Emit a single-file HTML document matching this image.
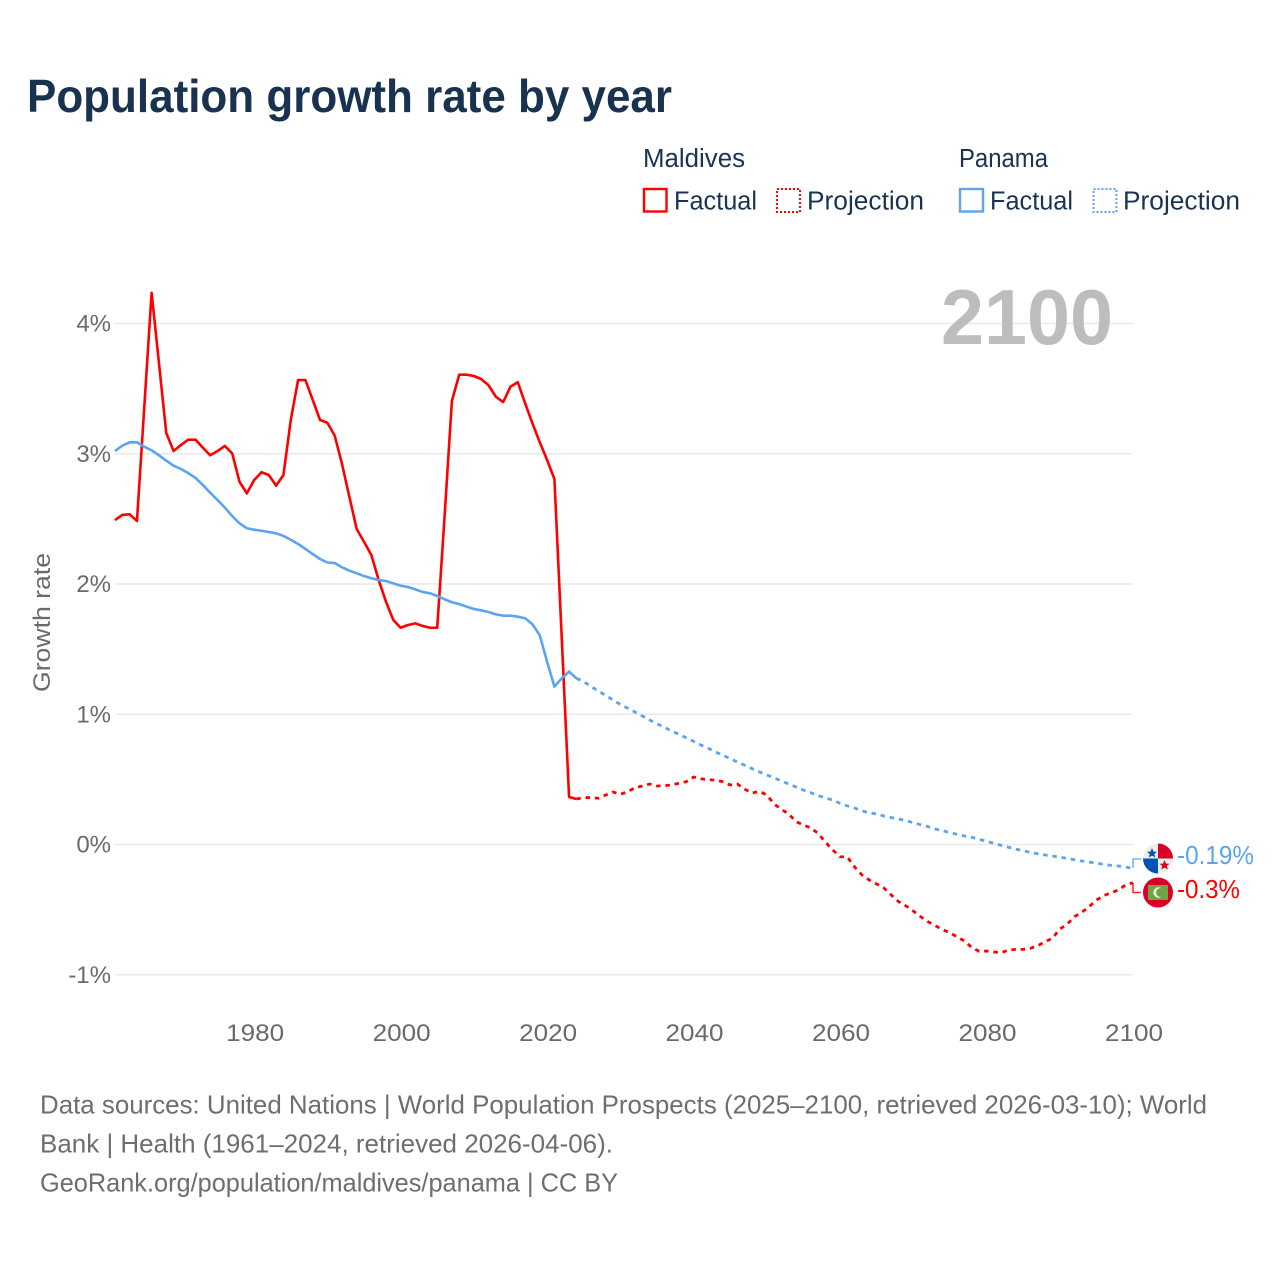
<!DOCTYPE html>
<html lang="en">
<head>
<meta charset="utf-8">
<title>Population growth rate by year</title>
<style>
html,body{margin:0;padding:0;background:#fff;width:1280px;height:1280px;overflow:hidden}
svg{display:block}
text{font-family:"Liberation Sans",sans-serif}
.lg{font-size:25.5px;fill:#1a3353}
.tick{font-size:24px;fill:#6a6a6a}
.foot{font-size:26px;fill:#6e6e6e}
</style>
</head>
<body>
<svg id="chart" xmlns="http://www.w3.org/2000/svg" width="1280" height="1280" viewBox="0 0 1280 1280">
  <rect x="0" y="0" width="1280" height="1280" fill="#fff"/>
  <text x="27" y="112" font-size="46" font-weight="700" fill="#18324f" textLength="645" lengthAdjust="spacingAndGlyphs">Population growth rate by year</text>

  <g>
    <text class="lg" x="643" y="167" textLength="102" lengthAdjust="spacingAndGlyphs">Maldives</text>
    <rect x="644" y="189" width="22.5" height="22.5" fill="none" stroke="#ff0000" stroke-width="2.4"/>
    <text class="lg" x="674" y="209.5" textLength="83" lengthAdjust="spacingAndGlyphs">Factual</text>
    <rect x="777" y="189" width="23" height="23" fill="none" stroke="#ff0000" stroke-width="2" stroke-dasharray="2 2"/>
    <text class="lg" x="807" y="209.5" textLength="117" lengthAdjust="spacingAndGlyphs">Projection</text>
    <text class="lg" x="959" y="167" textLength="89" lengthAdjust="spacingAndGlyphs">Panama</text>
    <rect x="960" y="189" width="23" height="22.5" fill="none" stroke="#5ba4ee" stroke-width="2.4"/>
    <text class="lg" x="990" y="209.5" textLength="83" lengthAdjust="spacingAndGlyphs">Factual</text>
    <rect x="1093.5" y="189" width="23" height="23" fill="none" stroke="#5ba4ee" stroke-width="2" stroke-dasharray="2 2"/>
    <text class="lg" x="1123" y="209.5" textLength="117" lengthAdjust="spacingAndGlyphs">Projection</text>
  </g>

  <g id="grid"></g>
  <g id="yticks"></g>
  <g id="xticks"></g>

  <text x="941" y="344" font-size="78" font-weight="700" fill="#bdbdbd" textLength="172" lengthAdjust="spacingAndGlyphs">2100</text>
  <text transform="translate(50,692) rotate(-90)" font-size="24" fill="#6a6a6a" textLength="139" lengthAdjust="spacingAndGlyphs">Growth rate</text>

  <g id="series"></g>

  <g>
    <path d="M1133 868V859H1141" fill="none" stroke="#5ba4ee" stroke-width="1.5" opacity=".85"/>
    <g>
      <circle cx="1158" cy="858.5" r="15" fill="#eeeeee"/>
      <path d="M1158 858.5V843.5A15 15 0 0 1 1173 858.5Z" fill="#d80027"/>
      <path d="M1158 858.5V873.5A15 15 0 0 1 1143 858.5Z" fill="#0052b4"/>
      <polygon points="1152,848 1153.5,851.6 1157,851.8 1154.3,854 1155.2,857.5 1152,855.6 1148.8,857.5 1149.7,854 1147,851.8 1150.5,851.6" fill="#0052b4"/>
      <polygon points="1164.5,860 1166,863.6 1169.5,863.8 1166.8,866 1167.7,869.5 1164.5,867.6 1161.3,869.5 1162.2,866 1159.5,863.8 1163,863.6" fill="#d80027"/>
    </g>
    <text x="1177" y="864" font-size="25.5" fill="#5ba4ee" textLength="77" lengthAdjust="spacingAndGlyphs">-0.19%</text>
  </g>
  <g>
    <path d="M1133 883V892.5H1141" fill="none" stroke="#ff0000" stroke-width="1.5" opacity=".85"/>
    <g>
      <circle cx="1158" cy="892.5" r="15" fill="#d80027"/>
      <rect x="1148" y="885" width="20" height="15" fill="#6da544"/>
      <circle cx="1158.5" cy="892.5" r="5.2" fill="#eeeeee"/>
      <circle cx="1160.5" cy="892.5" r="4.4" fill="#6da544"/>
    </g>
    <text x="1177" y="898" font-size="25.5" fill="#ff0000" textLength="63" lengthAdjust="spacingAndGlyphs">-0.3%</text>
  </g>

  <g>
    <text class="foot" x="40" y="1113.5" textLength="1167" lengthAdjust="spacingAndGlyphs">Data sources: United Nations | World Population Prospects (2025–2100, retrieved 2026-03-10); World</text>
    <text class="foot" x="40" y="1152.5" textLength="573" lengthAdjust="spacingAndGlyphs">Bank | Health (1961–2024, retrieved 2026-04-06).</text>
    <text class="foot" x="40" y="1191.5" textLength="578" lengthAdjust="spacingAndGlyphs">GeoRank.org/population/maldives/panama | CC BY</text>
  </g>
</svg>
<script>
const yTickValues = [4, 3, 2, 1, 0, -1];
const yTickLabels = ["4%", "3%", "2%", "1%", "0%", "-1%"];
const xTickYears = [1980, 2000, 2020, 2040, 2060, 2080, 2100];
const xTickLabels = ["1980", "2000", "2020", "2040", "2060", "2080", "2100"];
const factualStartYear = 1961;
const projectionStartYear = 2024;

const maldivesFactual = [2.491,2.530,2.535,2.484,3.359,4.236,3.697,3.159,3.021,3.067,3.108,3.108,3.046,2.988,3.021,3.060,3.003,2.785,2.696,2.798,2.858,2.837,2.755,2.837,3.259,3.566,3.566,3.413,3.259,3.238,3.139,2.921,2.670,2.422,2.325,2.223,2.031,1.864,1.724,1.664,1.685,1.698,1.678,1.664,1.664,2.517,3.405,3.607,3.607,3.597,3.574,3.526,3.438,3.397,3.515,3.549,3.387,3.234,3.088,2.952,2.806,1.585,0.365,0.349];

const maldivesProjection = [0.349,0.361,0.359,0.355,0.380,0.403,0.385,0.405,0.436,0.449,0.464,0.449,0.451,0.457,0.470,0.482,0.518,0.505,0.497,0.495,0.482,0.457,0.464,0.424,0.395,0.408,0.380,0.311,0.270,0.234,0.175,0.150,0.127,0.086,0.019,-0.042,-0.094,-0.096,-0.173,-0.234,-0.273,-0.303,-0.334,-0.388,-0.439,-0.472,-0.511,-0.554,-0.593,-0.623,-0.654,-0.677,-0.710,-0.741,-0.792,-0.820,-0.818,-0.825,-0.831,-0.810,-0.805,-0.805,-0.797,-0.777,-0.746,-0.720,-0.649,-0.613,-0.554,-0.521,-0.478,-0.426,-0.393,-0.370,-0.349,-0.311,-0.293];

const panamaFactual = [3.021,3.062,3.088,3.088,3.054,3.026,2.988,2.947,2.908,2.883,2.852,2.814,2.760,2.701,2.645,2.586,2.522,2.466,2.428,2.417,2.409,2.399,2.389,2.369,2.340,2.307,2.269,2.230,2.192,2.165,2.161,2.128,2.102,2.082,2.061,2.044,2.031,2.023,2.005,1.987,1.977,1.959,1.939,1.929,1.908,1.883,1.860,1.846,1.826,1.808,1.798,1.785,1.767,1.757,1.757,1.749,1.737,1.691,1.606,1.403,1.212,1.276,1.328,1.276];

const panamaProjection = [1.276,1.250,1.212,1.179,1.145,1.109,1.076,1.046,1.017,0.987,0.956,0.927,0.900,0.871,0.846,0.820,0.792,0.764,0.739,0.710,0.685,0.659,0.633,0.608,0.582,0.557,0.534,0.511,0.488,0.464,0.441,0.418,0.398,0.376,0.357,0.342,0.316,0.296,0.280,0.257,0.244,0.234,0.219,0.206,0.196,0.183,0.167,0.152,0.137,0.119,0.106,0.091,0.078,0.065,0.055,0.040,0.025,0.009,-0.006,-0.021,-0.035,-0.048,-0.060,-0.071,-0.081,-0.088,-0.098,-0.106,-0.117,-0.127,-0.134,-0.144,-0.152,-0.160,-0.165,-0.173,-0.183];

const SVGNS = "http://www.w3.org/2000/svg";
function xScale(year) { return 115 + (year - 1961) * (1133 - 115) / (2100 - 1961); }
function yScale(value) { return 844.5 - value * 130.25; }
function linePath(values, startYear) {
  return values.map(function (v, i) {
    return (i ? "L" : "M") + xScale(startYear + i).toFixed(2) + " " + yScale(v).toFixed(2);
  }).join("");
}

const gridGroup = document.getElementById("grid");
const yGroup = document.getElementById("yticks");
yTickValues.forEach(function (v, i) {
  const gl = document.createElementNS(SVGNS, "line");
  
  
  gl.setAttribute("x1", 115);
  gl.setAttribute("x2", 1133);
  gl.setAttribute("y1", yScale(v));
  gl.setAttribute("y2", yScale(v));
  gl.setAttribute("stroke", "#e9e9e9");
  gl.setAttribute("stroke-width", "1.5");
  gridGroup.appendChild(gl);

  const t = document.createElementNS(SVGNS, "text");
  
  
  t.setAttribute("class", "tick");
  t.setAttribute("x", 111);
  t.setAttribute("y", yScale(v) + 8);
  t.setAttribute("text-anchor", "end");
  t.textContent = yTickLabels[i];
  yGroup.appendChild(t);
});

const xGroup = document.getElementById("xticks");
xTickYears.forEach(function (yr, i) {
  const t = document.createElementNS(SVGNS, "text");
  
  
  t.setAttribute("class", "tick");
  t.setAttribute("x", xScale(yr) + 1);
  t.setAttribute("y", 1041);
  t.setAttribute("text-anchor", "middle");
  t.setAttribute("textLength", "58");
  t.setAttribute("lengthAdjust", "spacingAndGlyphs");
  t.textContent = xTickLabels[i];
  xGroup.appendChild(t);
});

const seriesGroup = document.getElementById("series");

const maldivesFactualLine = document.createElementNS(SVGNS, "path");


maldivesFactualLine.setAttribute("d", linePath(maldivesFactual, factualStartYear));
maldivesFactualLine.setAttribute("fill", "none");
maldivesFactualLine.setAttribute("stroke", "#ff0000");
maldivesFactualLine.setAttribute("stroke-width", "2.6");
maldivesFactualLine.setAttribute("stroke-linejoin", "round");
seriesGroup.appendChild(maldivesFactualLine);

const maldivesProjectionLine = document.createElementNS(SVGNS, "path");


maldivesProjectionLine.setAttribute("d", linePath(maldivesProjection, projectionStartYear));
maldivesProjectionLine.setAttribute("fill", "none");
maldivesProjectionLine.setAttribute("stroke", "#ff0000");
maldivesProjectionLine.setAttribute("stroke-width", "2.8");
maldivesProjectionLine.setAttribute("stroke-dasharray", "4.5 4.8");
seriesGroup.appendChild(maldivesProjectionLine);

const panamaFactualLine = document.createElementNS(SVGNS, "path");


panamaFactualLine.setAttribute("d", linePath(panamaFactual, factualStartYear));
panamaFactualLine.setAttribute("fill", "none");
panamaFactualLine.setAttribute("stroke", "#5ba4ee");
panamaFactualLine.setAttribute("stroke-width", "2.6");
panamaFactualLine.setAttribute("stroke-linejoin", "round");
seriesGroup.appendChild(panamaFactualLine);

const panamaProjectionLine = document.createElementNS(SVGNS, "path");


panamaProjectionLine.setAttribute("d", linePath(panamaProjection, projectionStartYear));
panamaProjectionLine.setAttribute("fill", "none");
panamaProjectionLine.setAttribute("stroke", "#5ba4ee");
panamaProjectionLine.setAttribute("stroke-width", "2.8");
panamaProjectionLine.setAttribute("stroke-dasharray", "4.5 4.8");
seriesGroup.appendChild(panamaProjectionLine);
</script>
</body>
</html>
